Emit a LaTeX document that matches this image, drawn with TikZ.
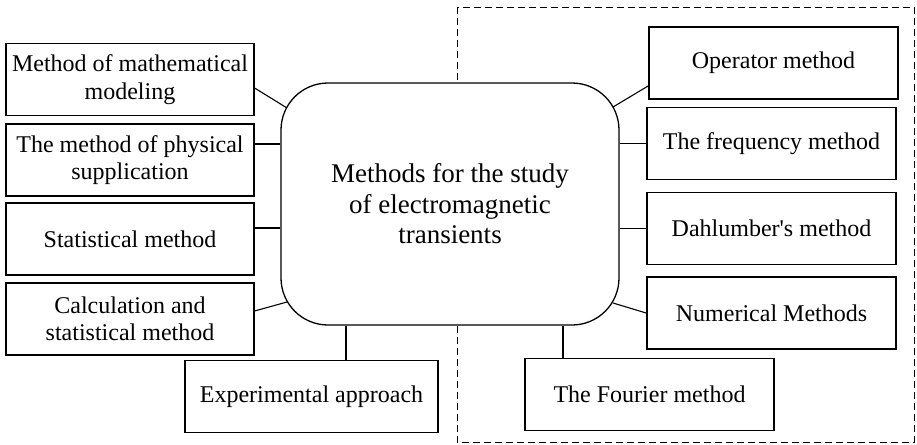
\documentclass[tikz,border=0pt]{standalone}
\usepackage{fontspec}
\setmainfont{Liberation Serif}
\usetikzlibrary{positioning}
\usetikzlibrary{calc}

\tikzset{
  leftbox/.style={draw, line width=1.2pt, minimum width=248pt, minimum height=72pt,
    inner sep=0pt, align=center, font=\fontsize{24}{27.5}\selectfont},
  rightbox/.style={leftbox, minimum width=249pt, line width=1.8pt},
  hub/.style={draw, fill=white, line width=1.3pt, rounded corners=47pt,
    minimum width=338pt, minimum height=242pt, align=center,
    font=\fontsize{27}{30.5}\selectfont},
  link/.style={line width=1.1pt}
}

\begin{document}
\begin{tikzpicture}[x=1pt,y=-1pt]
\useasboundingbox (0,0) rectangle (917,444);
\draw[dash pattern=on 7pt off 4pt, line width=0.9pt] (457,7) rectangle (914,442);

\node[hub] (ctr) at (450,204) {Methods for the study\\of electromagnetic\\transients};

% left column
\node[leftbox] (model) at (130,79.5) {Method of mathematical\\modeling};
\node[leftbox] (phys) at (130,160) {The method of physical\\supplication};
\node[leftbox] (stat) at (130,239) {Statistical method};
\node[leftbox] (calc) at (130,319) {Calculation and\\statistical method};
\node[leftbox, minimum width=253pt] (exper) at (311.5,396.5) {Experimental approach};

% right column
\node[rightbox] (oper) at (773.5,63) {Operator method};
\node[rightbox] (freq) at (771.5,143.5) {The frequency method};
\node[rightbox] (dahl) at (771.5,228.5) {Dahlumber\textquotesingle s method};
\node[rightbox] (num) at (771.5,313) {Numerical Methods};
\node[rightbox] (four) at (649.5,394.5) {The Fourier method};

% points on the rounded corners
\coordinate (tl) at (287,108);
\coordinate (bl) at (287,302);
\coordinate (tr) at (613,107);
\coordinate (br) at (613,303);

\draw[link] ($(model.east)+(0,8.5)$) -- (tl);
\draw[link] (phys.east |- 0,144) -- (ctr.west |- 0,144);
\draw[link] (stat.east |- 0,228) -- (ctr.west |- 0,228);
\draw[link] ($(calc.east)+(0,-8)$) -- (bl);
\draw[link] (exper.north -| 346,0) -- (ctr.south -| 346,0);

\draw[link] (tr) -- ($(oper.west)+(0,23)$);
\draw[link] (ctr.east |- freq.west) -- (freq.west);
\draw[link] (ctr.east |- dahl.west) -- (dahl.west);
\draw[link] (br) -- (num.west);
\draw[link] (ctr.south -| 563,0) -- (four.north -| 563,0);
\end{tikzpicture}
\end{document}
